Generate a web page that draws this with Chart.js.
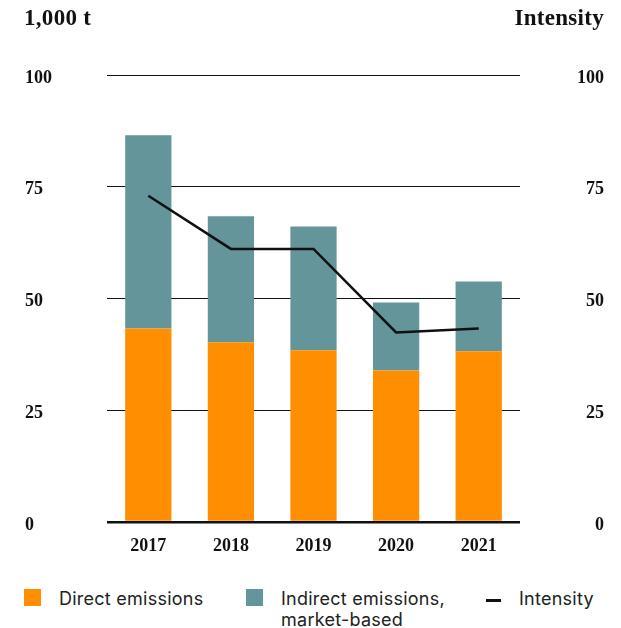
<!DOCTYPE html>
<html>
<head>
<meta charset="utf-8">
<script src="https://cdn.jsdelivr.net/npm/chart.js@4"></script>
<style>
  html, body { margin: 0; padding: 0; background: #fff; }
  #wrap { position: relative; width: 621px; height: 628px; overflow: hidden; }
  #chartBox { position: absolute; left: 0; top: 0; width: 621px; height: 570px; }
  .axisTitle { position: absolute; top: 5px; font: bold 23px "Liberation Serif", serif; color: #111; letter-spacing: 0.3px; }
  .legend { position: absolute; top: 588px; font: 18px Inter, sans-serif; color: #222; line-height: 21px; letter-spacing: 0.25px; }
  .sw { position: absolute; top: 1px; width: 17px; height: 17px; }
</style>
</head>
<body>
<div id="wrap">
  <div id="chartBox"><canvas id="emChart"></canvas></div>
  <div class="axisTitle" style="left:24px">1,000 t</div>
  <div class="axisTitle" style="right:17px">Intensity</div>

  <div class="legend" style="left:24px"><span class="sw" style="left:0;background:#ff8f00"></span><span style="margin-left:35px">Direct emissions</span></div>
  <div class="legend" style="left:246px"><span class="sw" style="left:0;background:#63959b"></span><div style="margin-left:35px">Indirect emissions,<br>market-based</div></div>
  <div class="legend" style="left:486px"><span style="position:absolute;left:0;top:11px;width:15px;height:3px;background:#111"></span><span style="margin-left:33px">Intensity</span></div>
</div>

<script>
// данные с картинки
const years = ["2017", "2018", "2019", "2020", "2021"];
const directEmissions = [43.3, 40.2, 38.4, 33.9, 38.2];
const indirectEmissions = [43.2, 28.2, 27.7, 15.2, 15.6];
const intensity = [73.0, 61.1, 61.1, 42.4, 43.3];
const tickValues = [0, 25, 50, 75, 100];

const serifBold = { family: "'Liberation Serif', serif", size: 18, weight: "bold" };

new Chart(document.getElementById("emChart").getContext("2d"), {
    type: "bar",
    data: {
        labels: years,
        datasets: [
            {
                type: "line",
                label: "Intensity",
                data: intensity,
                yAxisID: "y1",
                borderColor: "#111111",
                borderWidth: 2.5,
                pointRadius: 0,
                tension: 0,
                order: 0
            },
            {
                label: "Direct emissions",
                data: directEmissions,
                backgroundColor: "#ff8f00",
                yAxisID: "y",
                stack: "em",
                order: 1,
                barPercentage: 0.56,
                categoryPercentage: 1
            },
            {
                label: "Indirect emissions, market-based",
                data: indirectEmissions,
                backgroundColor: "#63959b",
                yAxisID: "y",
                stack: "em",
                order: 1,
                barPercentage: 0.56,
                categoryPercentage: 1
            }
        ]
    },
    options: {
        responsive: true,
        maintainAspectRatio: false,
        animation: false,
        layout: { padding: { left: 25, right: 17, top: 75, bottom: 0 } },
        plugins: {
            legend: { display: false },
            tooltip: { enabled: false }
        },
        scales: {
            x: {
                stacked: true,
                grid: { display: false, drawTicks: false },
                border: { display: false },
                ticks: { color: "#111", font: serifBold, padding: 14 },
                afterFit: s => { s.height = 48; }
            },
            y: {
                stacked: true,
                min: 0,
                max: 100,
                afterBuildTicks: s => { s.ticks = tickValues.map(v => ({ value: v })); },
                grid: {
                    color: "#111",
                    lineWidth: ctx => ctx.tick && ctx.tick.value === 0 ? 2.5 : 1,
                    drawTicks: false
                },
                border: { display: false },
                ticks: { color: "#111", font: serifBold, crossAlign: "far", padding: 0, labelOffset: 3 },
                afterFit: s => { s.width = 82; }
            },
            y1: {
                position: "right",
                min: 0,
                max: 100,
                afterBuildTicks: s => { s.ticks = tickValues.map(v => ({ value: v })); },
                grid: { display: false },
                border: { display: false },
                ticks: { color: "#111", font: serifBold, crossAlign: "far", padding: 0, labelOffset: 3 },
                afterFit: s => { s.width = 84; }
            }
        }
    }
});
</script>
</body>
</html>
